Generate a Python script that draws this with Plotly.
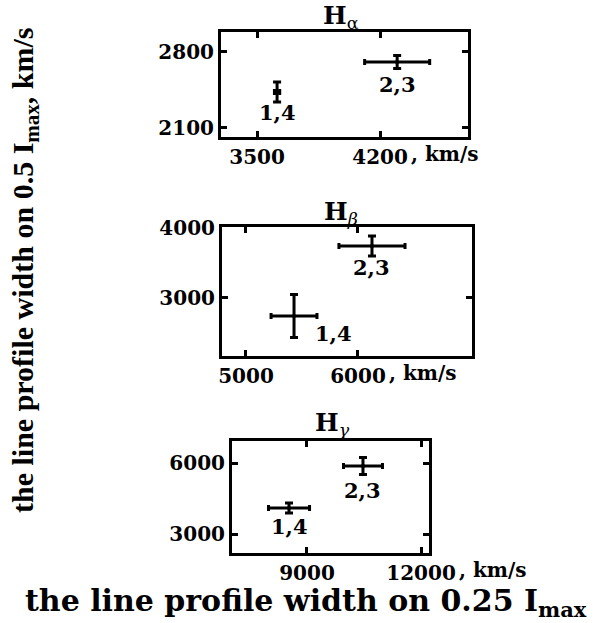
import plotly.graph_objects as go

# point labels (same for every panel)
labels = ['1,4', '2,3']

# H alpha: widths at 0.25 Imax (x) and 0.5 Imax (y), km/s
ha_x = [3614, 4297]
ha_xerr = [15, 185]
ha_y = [2432, 2708]
ha_yerr = [92, 60]

# H beta
hb_x = [5429, 6125]
hb_xerr = [205, 295]
hb_y = [2743, 3744]
hb_yerr = [307, 143]

# H gamma
hg_x = [8527, 10473]
hg_xerr = [540, 513]
hg_y = [4100, 5873]
hg_yerr = [210, 360]

# tick values
ha_xticks = [3500, 4200]
ha_yticks = [2100, 2800]
hb_xticks = [5000, 6000]
hb_yticks = [3000, 4000]
hg_xticks = [9000, 12000]
hg_yticks = [3000, 6000]

W, H = 611, 623
SERIF = 'DejaVu Serif'

panels = [
    dict(x=ha_x, ex=ha_xerr, y=ha_y, ey=ha_yerr, xt=ha_xticks, yt=ha_yticks,
         title='<b>H</b><sub>α</sub>', tpos=(341, 13),
         xdom=[221, 468], ydom=[32, 137], xr=[3295, 4700], yr=[2017, 2984],
         shifts=[(0, -21), (0, -23)], unitshift=29),
    dict(x=hb_x, ex=hb_xerr, y=hb_y, ey=hb_yerr, xt=hb_xticks, yt=hb_yticks,
         title='<b>H</b><sub><i>β</i></sub>', tpos=(341, 209),
         xdom=[222, 472], ydom=[227, 356], xr=[4786, 7018], yr=[2171, 4014],
         shifts=[(39, -18), (0, -22)], unitshift=29),
    dict(x=hg_x, ex=hg_xerr, y=hg_y, ey=hg_yerr, xt=hg_xticks, yt=hg_yticks,
         title='<b>H</b><sub><i>γ</i></sub>', tpos=(332, 420),
         xdom=[232, 429], ydom=[441, 553], xr=[7027, 12210], yr=[2197, 6930],
         shifts=[(0, -19), (0, -24)], unitshift=36),
]


def px_x(v):
    return v / W


def px_y(v):
    return 1 - v / H


fig = go.Figure()
layout = dict(width=W, height=H, margin=dict(l=0, r=0, t=0, b=0),
              plot_bgcolor='white', paper_bgcolor='white', showlegend=False)
annotations = []

axis_style = dict(showline=True, linewidth=3, linecolor='black', mirror='ticks',
                  ticks='inside', ticklen=6, tickwidth=2.5, tickcolor='black',
                  showgrid=False, zeroline=False, tickformat='d', automargin=False,
                  tickfont=dict(family=SERIF, size=20, color='black', weight='bold'))

for i, p in enumerate(panels, start=1):
    sfx = '' if i == 1 else str(i)
    fig.add_trace(go.Scatter(
        x=p['x'], y=p['y'], mode='markers',
        marker=dict(color='black', size=4),
        error_x=dict(type='data', array=p['ex'], color='black', thickness=3, width=3),
        error_y=dict(type='data', array=p['ey'], color='black', thickness=3, width=4),
        xaxis='x' + sfx, yaxis='y' + sfx))

    layout['xaxis' + sfx] = dict(axis_style, domain=[px_x(p['xdom'][0]), px_x(p['xdom'][1])],
                                 range=p['xr'], tickvals=p['xt'], anchor='y' + sfx,
                                 ticklabelstandoff=0)
    layout['yaxis' + sfx] = dict(axis_style, domain=[px_y(p['ydom'][1]), px_y(p['ydom'][0])],
                                 range=p['yr'], tickvals=p['yt'], anchor='x' + sfx,
                                 ticklabelstandoff=0)

    # point labels
    for lx, ly, lab, (dx, dy) in zip(p['x'], p['y'], labels, p['shifts']):
        annotations.append(dict(x=lx, y=ly, xref='x' + sfx, yref='y' + sfx, text='<b>%s</b>' % lab,
                                showarrow=False, xshift=dx, yshift=dy,
                                font=dict(family=SERIF, size=21, color='black')))

    # panel title
    annotations.append(dict(x=px_x(p['tpos'][0]), y=px_y(p['tpos'][1] + 4), xref='paper', yref='paper',
                            text=p['title'], showarrow=False, yanchor='middle',
                            font=dict(family=SERIF, size=25, color='black')))

    # ", km/s" after the last x tick label
    annotations.append(dict(x=p['xt'][-1], y=px_y(p['ydom'][1]), xref='x' + sfx, yref='paper',
                            text='<b>, km/s</b>', showarrow=False, xanchor='left', yanchor='top',
                            xshift=p['unitshift'], yshift=-3,
                            font=dict(family=SERIF, size=20, color='black')))

annotations.append(dict(x=px_x(4), y=px_y(270), xref='paper', yref='paper', textangle=-90,
                        text='<b>the line profile width on 0.5 I<sub>max</sub>, km/s</b>',
                        showarrow=False, font=dict(family='Liberation Serif', size=30, color='black')))
annotations.append(dict(x=px_x(306), y=px_y(624), xref='paper', yref='paper',
                        text='<b>the line profile width on 0.25 I<sub>max</sub></b>',
                        showarrow=False, font=dict(family=SERIF, size=30, color='black')))

layout['annotations'] = annotations
fig.update_layout(**layout)
fig.write_html("out.html", config={'displayModeBar': False},
               post_script="document.body.style.margin = '0';")
